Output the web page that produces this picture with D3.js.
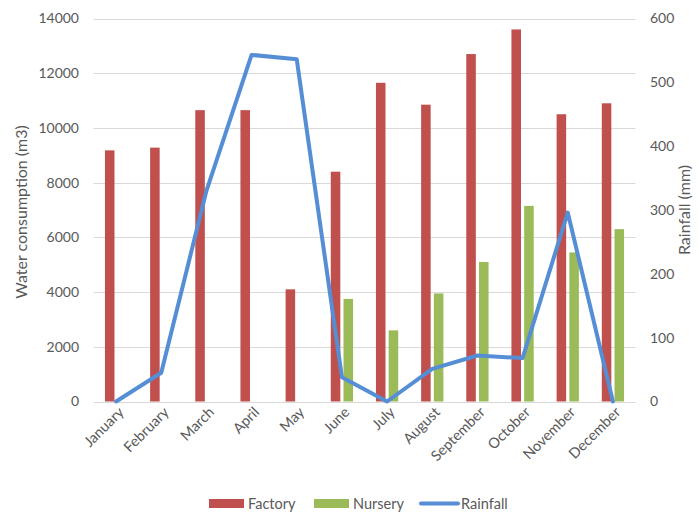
<!DOCTYPE html>
<html><head><meta charset="utf-8">
<script src="https://cdn.jsdelivr.net/npm/d3@7"></script>
<style>
body{margin:0;background:#fff;}
text{font-family:Lato, "Open Sans", sans-serif;}
</style></head>
<body><svg id="c" width="699" height="513"></svg>
<script>
const months = ["January","February","March","April","May","June","July","August","September","October","November","December"];
const factory = [9180, 9280, 10650, 10650, 4100, 8400, 11650, 10850, 12700, 13600, 10500, 10900];
const nursery = [null, null, null, null, null, 3750, 2600, 3950, 5100, 7150, 5450, 6300];
const rainfall = [0, 45, 330, 543, 536, 38, 0, 51, 72, 68, 296, 0];
const leftTicks = [0, 2000, 4000, 6000, 8000, 10000, 12000, 14000];
const rightTicks = [0, 100, 200, 300, 400, 500, 600];
const seriesNames = ["Factory", "Nursery", "Rainfall"];

const svg = d3.select("#c");
const L = 93.5, R = 635.5, T = 18.5, B = 401.5;
const x = d3.scaleBand().domain(months).range([L, R]).padding(0);
const sub = d3.scaleBand().domain(["Factory","Nursery"]).range([0, x.bandwidth()]).paddingInner(0.25).paddingOuter(0.9);
const yL = d3.scaleLinear().domain([0, 14000]).range([B, T]);
const yR = d3.scaleLinear().domain([0, 600]).range([B, T]);
const grey = "#595959";

// gridlines
svg.append("g").selectAll("line").data(leftTicks).join("line")
  .attr("x1", L).attr("x2", R)
  .attr("y1", d => Math.round(yL(d)) + 0.5).attr("y2", d => Math.round(yL(d)) + 0.5)
  .attr("stroke", "#d9d9d9").attr("stroke-width", 1);

// left axis labels
svg.append("g").selectAll("text").data(leftTicks).join("text")
  .attr("x", 79).attr("y", d => yL(d)).attr("dy", "0.35em")
  .attr("text-anchor", "end").attr("font-size", 14).attr("fill", grey)
  .text(d => d);

// right axis labels
svg.append("g").selectAll("text").data(rightTicks).join("text")
  .attr("x", 650).attr("y", d => yR(d)).attr("dy", "0.35em")
  .attr("text-anchor", "start").attr("font-size", 14).attr("fill", grey)
  .text(d => d);

// bars
const fData = months.map((m, i) => ({m, v: factory[i]}));
const nData = months.map((m, i) => ({m, v: nursery[i]})).filter(d => d.v != null);
svg.append("g").selectAll("rect").data(fData).join("rect")
  .attr("x", d => x(d.m) + sub("Factory")).attr("width", sub.bandwidth())
  .attr("y", d => yL(d.v)).attr("height", d => yL(0) - yL(d.v))
  .attr("fill", "#C0504D");
svg.append("g").selectAll("rect").data(nData).join("rect")
  .attr("x", d => x(d.m) + sub("Nursery")).attr("width", sub.bandwidth())
  .attr("y", d => yL(d.v)).attr("height", d => yL(0) - yL(d.v))
  .attr("fill", "#9BBB59");

// rainfall line
const line = d3.line().x((d, i) => x(months[i]) + x.bandwidth() / 2).y(d => yR(d));
svg.append("path").datum(rainfall).attr("d", line)
  .attr("fill", "none").attr("stroke", "#558ED5").attr("stroke-width", 4)
  .attr("stroke-linejoin", "round").attr("stroke-linecap", "round");

// x labels
svg.append("g").selectAll("text").data(months).join("text")
  .attr("transform", d => `translate(${x(d) + x.bandwidth() / 2 + 5},${B + 8}) rotate(-45)`)
  .attr("text-anchor", "end").attr("dy", "0.35em")
  .attr("font-size", 14.5).attr("fill", grey).text(d => d);

// axis titles
svg.append("text").attr("transform", `translate(27,${(T + B) / 2 + 2}) rotate(-90)`)
  .attr("text-anchor", "middle").attr("font-size", 16).attr("fill", grey)
  .text("Water consumption (m3)");
svg.append("text").attr("transform", `translate(690,${(T + B) / 2}) rotate(-90)`)
  .attr("text-anchor", "middle").attr("font-size", 16).attr("fill", grey)
  .text("Rainfall (mm)");

// legend
const legend = svg.append("g");
const lg = [
  {name: seriesNames[0], x: 209, color: "#C0504D", type: "rect"},
  {name: seriesNames[1], x: 314, color: "#9BBB59", type: "rect"},
  {name: seriesNames[2], x: 421, color: "#558ED5", type: "line"}
];
lg.forEach(d => {
  if (d.type === "rect") {
    legend.append("rect").attr("x", d.x).attr("y", 499).attr("width", 35).attr("height", 9).attr("fill", d.color);
  } else {
    legend.append("line").attr("x1", d.x).attr("x2", d.x + 37).attr("y1", 503.5).attr("y2", 503.5)
      .attr("stroke", d.color).attr("stroke-width", 4).attr("stroke-linecap", "round");
  }
  legend.append("text").attr("x", d.x + (d.type === "rect" ? 39 : 40)).attr("y", 503.5).attr("dy", "0.35em")
    .attr("font-size", 14.5).attr("fill", grey).text(d.name);
});
</script></body></html>
